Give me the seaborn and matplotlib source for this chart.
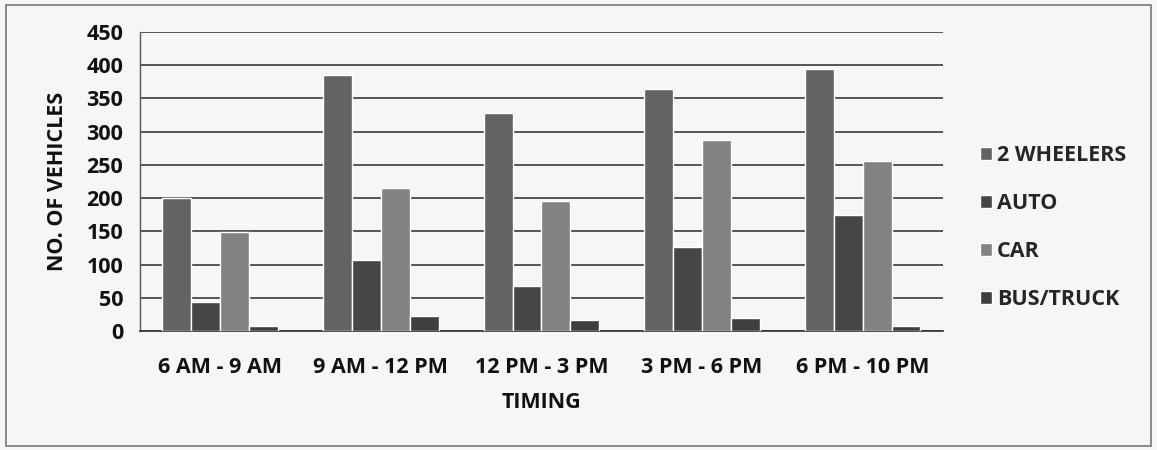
import pandas as pd
import matplotlib.pyplot as plt
import seaborn as sns
from matplotlib.patches import Rectangle

# Datos
timings = ["6 AM - 9 AM", "9 AM - 12 PM", "12 PM - 3 PM", "3 PM - 6 PM", "6 PM - 10 PM"]
vehicle_types = ["2 WHEELERS", "AUTO", "CAR", "BUS/TRUCK"]
two_wheelers = [200, 385, 328, 364, 394]
auto = [43, 107, 68, 127, 174]
car = [149, 215, 196, 288, 256]
bus_truck = [7, 22, 16, 19, 7]
y_ticks = [0, 50, 100, 150, 200, 250, 300, 350, 400, 450]

colors = ["#636363", "#464646", "#828282", "#3f3f3f"]

sns.set_theme(style="white")
plt.rcParams["font.family"] = ["Open Sans", "DejaVu Sans"]

FS = 15.5


def build_frame() -> pd.DataFrame:
    series = [two_wheelers, auto, car, bus_truck]
    rows = []
    for name, values in zip(vehicle_types, series):
        for t, v in zip(timings, values):
            rows.append({"Timing": t, "Vehicle": name, "Count": v})
    return pd.DataFrame(rows)


def main():
    df = build_frame()

    fig = plt.figure(figsize=(11.57, 4.5), dpi=100)
    fig.patch.set_facecolor("#f6f6f6")
    ax = fig.add_axes([0.121, 0.2644, 0.694, 0.6645])
    ax.set_facecolor("#f6f6f6")

    sns.barplot(data=df, x="Timing", y="Count", hue="Vehicle", order=timings,
                hue_order=vehicle_types, palette=colors, width=0.72, gap=0,
                saturation=1, ax=ax, zorder=3)

    ax.set_ylim(0, 450)
    ax.set_xlim(-0.5, len(timings) - 0.5)
    ax.set_yticks(y_ticks)
    ax.yaxis.grid(True, color="#2a2a2a", linewidth=1.1, zorder=0)
    ax.set_axisbelow(True)

    for side in ["top", "right"]:
        ax.spines[side].set_visible(False)
    ax.spines["left"].set_color("#555555")
    ax.spines["bottom"].set_color("#333333")
    ax.spines["left"].set_linewidth(1.0)
    ax.spines["bottom"].set_linewidth(1.2)

    # ticks de categoría en los bordes
    ax.set_xticks([i - 0.5 for i in range(len(timings) + 1)], minor=True)
    ax.tick_params(axis="x", which="major", length=0, pad=19, labelsize=FS)
    ax.tick_params(axis="x", which="minor", length=6, direction="out", color="#333333")
    ax.tick_params(axis="y", length=7, direction="out", color="#555555", labelsize=FS, pad=5)
    for lab in ax.get_xticklabels() + ax.get_yticklabels():
        lab.set_fontweight("bold")
        lab.set_color("#111111")

    ax.set_xlabel("TIMING", fontsize=FS, fontweight="bold", color="#111111", labelpad=10)
    ax.set_ylabel("NO. OF VEHICLES", fontsize=FS, fontweight="bold", color="#111111", labelpad=13)

    ax.legend(loc="center left", bbox_to_anchor=(1.022, 0.345), frameon=False,
              handlelength=0.55, handleheight=0.55, handletextpad=0.25,
              labelspacing=1.25, prop={"weight": "bold", "size": FS})

    # borde exterior
    fig.patches.append(Rectangle((0.005, 0.008), 0.99, 0.982, transform=fig.transFigure,
                                 fill=False, edgecolor="#777777", linewidth=1.2))

    fig.savefig("out.png", dpi=100, facecolor=fig.get_facecolor())
    plt.close(fig)


if __name__ == "__main__":
    main()
